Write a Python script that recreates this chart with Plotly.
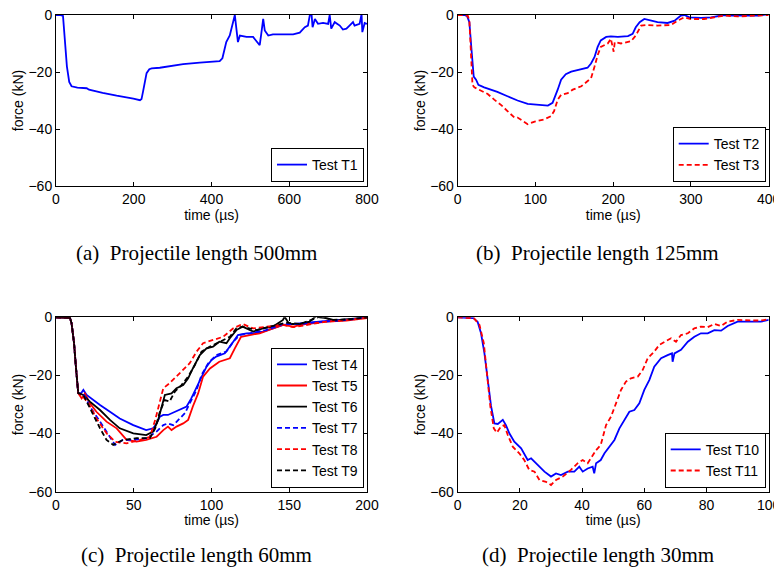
import plotly.graph_objects as go

# ---------------- data ----------------
# (a) Projectile length 500mm
t_T1 = [0, 10, 18, 22, 28, 34, 40, 55, 79, 85, 96, 120, 156, 180, 199, 216, 220, 224, 229, 233,
        240, 246, 267, 284, 327, 370, 421, 428, 438, 447, 456, 460, 464, 468, 473, 490, 507, 520,
        524, 528, 533, 537, 546, 558, 584, 610, 627, 640, 648, 653, 657, 660, 666, 674, 687, 700,
        704, 708, 717, 730, 738, 747, 755, 764, 768, 781, 786, 788, 794, 800]
F_T1 = [0, 0, -0.3, -8, -18, -23.5, -25, -25.5, -25.7, -26.2, -26.6, -27.3, -28.3, -28.8, -29.3,
        -29.9, -29.5, -26.8, -23, -20.4, -19, -18.7, -18.5, -18.1, -17.2, -16.7, -16.2, -15.2, -9.5,
        -7.2, -2.5, 0, -4.8, -9.5, -7.2, -7.7, -7.7, -10, -10.6, -6.6, -1.4, -5.4, -7.2, -6.8, -6.8,
        -6.8, -6.2, -4.3, -3.7, 0, 0.9, -4.3, -1.4, -3.1, -2.8, -3.1, 0, -4.8, -2.5, -3.7, -5.1,
        -4.8, -3.7, -2.5, -3.7, -3.1, 0.3, -6, -2.8, -3.1]

# (b) Projectile length 125mm
t_T2 = [0, 8, 12, 15, 18, 20.6, 23.6, 26.6, 34, 43, 51, 64, 77, 90, 103, 116, 122, 126.5, 128.6,
        133, 139, 146, 156, 167, 171.5, 176, 180, 184, 191, 197, 206, 219, 225, 229, 234, 240, 249,
        257, 270, 279, 287, 291.5, 298, 313, 326, 343, 352, 369, 386, 400]
F_T2 = [0, 0, -0.3, -2.5, -13, -21.6, -22.7, -24.5, -25.4, -26.2, -27, -28.5, -30, -31.2, -31.6,
        -31.8, -30.8, -28, -26.2, -22.7, -20.8, -19.9, -19.3, -18.5, -17, -14.7, -11.2, -8.9, -7.7,
        -7.5, -7.7, -7.4, -6.6, -4.3, -2.5, -1.4, -2, -2.5, -2.8, -2, -0.2, 0, -0.8, -1, -0.8, 0,
        -0.2, -0.2, -0.2, 0.3]
t_T3 = [0, 8, 13, 15, 17, 19, 21.4, 28, 38.6, 47, 56, 64, 73, 77, 84, 90, 99, 111.5, 120, 124,
        128.6, 133, 141.5, 148, 159, 167, 171.5, 176, 180, 184, 193, 197, 200.6, 202, 210, 223, 229,
        236, 244, 257, 274, 283, 291.5, 300, 317, 330, 343, 360, 377, 400]
F_T3 = [0, 0, -0.3, -2, -13, -24.5, -25.4, -26.2, -27.7, -29.7, -31.6, -33.7, -36, -36, -37.4,
        -38.3, -37.4, -36.6, -35.5, -33.7, -29.7, -28, -27.4, -26.2, -25, -23.3, -22.2, -18.1,
        -14.1, -11.2, -10, -8.3, -12.9, -9.5, -10, -9.2, -7.2, -3.7, -3.5, -3.7, -3.5, -2, -0.8,
        -1.4, -1.4, -0.8, -0.2, -0.5, -0.2, 0]

# (c) Projectile length 60mm
t_T4 = [0, 9, 10, 11.6, 12.8, 14.3, 15.4, 17.6, 19.7, 24, 28.3, 34.7, 41, 49.7, 58, 62.5, 64.7,
        66.8, 69, 72, 75.4, 80.7, 84, 87, 90, 93.6, 96.8, 100, 103, 108.6, 110.7, 114, 117, 122.5,
        126.8, 133, 139.6, 146, 156.7, 167.5, 178, 189, 200]
F_T4 = [0, -0.2, -2.0, -8.9, -17.0, -26.1, -26.7, -25.0, -26.7, -28.5, -30.2, -32.5, -34.8,
        -37.1, -38.8, -38.2, -36.5, -34.2, -33.6, -33.6, -32.8, -31.3, -30.7, -27.9, -24.4, -20.4,
        -17.0, -14.7, -13.5, -12.4, -10.7, -8.4, -6.1, -5.5, -5.5, -4.9, -3.8, -2.6, -2.1, -1.5,
        -1.1, -0.7, 0]
t_T5 = [0, 9, 10, 11.6, 12.8, 14.3, 16.5, 18.6, 21.8, 26, 32.5, 39, 45.4, 51.8, 58, 64.7, 69, 72,
        74.3, 77.5, 81.8, 85, 88, 91.4, 94.6, 99, 105, 111.8, 115, 119, 124.6, 131, 139.6, 146,
        152.5, 161, 174, 186.7, 200]
F_T5 = [0, -0.2, -2.0, -8.9, -17.0, -26.1, -27.9, -26.2, -29.6, -32.5, -35.9, -38.2, -42.2,
        -42.8, -42.2, -41.1, -38.8, -37.6, -38.8, -37.6, -36.5, -35.3, -30.7, -26.2, -20.4, -17.6,
        -15.3, -14.1, -10.7, -6.7, -6.1, -5.5, -3.8, -2.6, -3.2, -2.3, -1.5, -1.1, -0.3]
t_T6 = [0, 9, 10, 11.6, 12.8, 14.3, 17.6, 21.8, 28.3, 34.7, 41, 49.7, 58, 62.5, 65.7, 68, 70,
        74.3, 77.5, 81.8, 85, 88, 92.5, 96.8, 101, 105, 109.6, 111.8, 116, 120, 126.8, 133, 139.6,
        146, 147, 150, 156.7, 163, 167.5, 169.6, 174, 180, 189, 200]
F_T6 = [0, -0.2, -2.0, -8.9, -17.0, -26.1, -26.7, -29.0, -31.9, -35.3, -38.2, -39.9, -40.5,
        -39.3, -35.3, -30.7, -26.7, -26.2, -24.4, -23.3, -21.0, -17.6, -13.0, -10.7, -10.1, -8.4,
        -8.9, -7.2, -4.4, -3.2, -4.9, -3.8, -3.2, -0.9, 0.2, -2.3, -2.3, -1.5, 0.5, 0, -0.3, -1.1,
        -0.7, 0]
t_T7 = [0, 9, 10, 11.6, 12.8, 14.3, 17.6, 21.8, 28.3, 34.7, 38, 43, 49.7, 58, 64.7, 69, 72, 75.4,
        78.6, 82.9, 86, 90.4, 93.6, 97.9, 103, 109.6, 114, 118, 124.6, 135, 146, 157, 170, 187, 200]
F_T7 = [0, -0.2, -2.0, -8.9, -17.0, -26.1, -26.2, -30.7, -35.9, -41.1, -43.9, -42.2, -42.2,
        -41.6, -39.3, -37.1, -36.5, -37.1, -35.3, -33.0, -29.6, -25.0, -19.8, -15.8, -13.0, -11.8,
        -8.4, -6.1, -5.5, -4.4, -2.3, -2.3, -1.6, -0.9, 0]
t_T8 = [0, 9, 10, 11.6, 12.8, 14.3, 16.5, 20.8, 26, 32.5, 38, 45.4, 54, 60.4, 63.8, 66.8, 69, 73,
        79.7, 86, 90.4, 94.6, 101, 107.5, 114, 120, 126.8, 135, 146, 152.5, 161, 174, 189, 200]
F_T8 = [0, -0.2, -2.0, -8.9, -17.0, -26.1, -26.7, -29.6, -34.8, -39.9, -42.8, -43.4, -42.2,
        -41.1, -35.3, -28.5, -24.4, -22.7, -19.3, -15.8, -11.8, -8.9, -7.8, -6.7, -3.8, -2.3, -3.8,
        -3.2, -2.6, -3.4, -2.6, -1.5, -0.9, 0]
t_T9 = [0, 9, 10, 11.6, 12.8, 14.3, 17.6, 21.8, 28.3, 32.5, 36.8, 43, 51.8, 60.4, 63.8, 66.8, 70,
        73, 76.4, 80.7, 85, 89.3, 93.6, 99, 105, 111.8, 116, 120, 129, 139.6, 148, 157, 169.6, 178,
        189, 200]
F_T9 = [0, -0.2, -2.0, -8.9, -17.0, -26.1, -26.7, -31.3, -38.2, -42.2, -43.9, -42.2, -41.6,
        -41.6, -38.2, -32.5, -28.5, -29.0, -25.6, -23.3, -20.4, -16.4, -11.8, -10.1, -8.4, -6.7,
        -3.8, -3.2, -4.4, -3.0, -1.8, -2.3, 0.2, -0.9, -0.7, 0]

# (d) Projectile length 30mm
t_T10 = [0, 5, 6.4, 7.5, 8.6, 9.6, 10.7, 11.8, 12.9, 14.5, 15.5, 16.6, 18.2, 20.4, 22.5, 23.6,
         25.7, 27.9, 30, 31.6, 33.2, 35.4, 37.5, 39.1, 40.2, 41.8, 43.4, 43.9, 44.5, 46, 47.2, 48.8,
         50.4, 52, 53.6, 55.2, 56.8, 58.4, 60, 61.6, 63.2, 65.4, 67.5, 68.9, 69.1, 69.7, 71.8, 74,
         76.1, 78.2, 80.4, 82.5, 84.7, 86.8, 90, 94.3, 97.5, 100]
F_T10 = [0, -0.3, -1.5, -5.5, -12.4, -21.6, -30.4, -36.5, -36.7, -35.3, -37.1, -39.9, -42.8,
         -45.1, -49.1, -48.5, -50.8, -53.1, -54.8, -53.7, -54.3, -53.1, -53.1, -51.4, -53.1, -52.0,
         -51.4, -53.7, -50.2, -49.1, -46.8, -44.5, -42.2, -38.2, -35.3, -32.5, -31.9, -29.6, -25.0,
         -21.6, -17.0, -14.1, -13.0, -12.4, -15.3, -12.4, -11.2, -8.4, -6.7, -5.5, -5.5, -4.4,
         -4.6, -3.0, -1.5, -1.5, -1.5, -0.9]
t_T11 = [0, 5.2, 7, 8.4, 9.4, 10.5, 11.6, 12.6, 13.9, 15, 16.1, 17.7, 19.8, 21.4, 23, 24.7, 26.3,
         28.4, 30, 31.6, 33.8, 36.4, 38.6, 40.2, 41.8, 42.9, 44.5, 46, 47.7, 49.3, 50.9, 52.5, 54.1,
         55.7, 57.9, 59.5, 61.1, 63.2, 64.8, 66.5, 68.6, 70.2, 71.8, 74, 76.1, 78.2, 80.4, 82.5,
         84.7, 86.8, 90, 94.3, 97.5, 100]
F_T11 = [0, -0.3, -2.6, -8.9, -19.3, -30.7, -38.2, -39.7, -37.6, -37.1, -40.5, -44.5, -46.8,
         -49.1, -52.5, -53.1, -56.0, -56.6, -57.7, -56.0, -54.8, -52.5, -50.2, -49.1, -50.2, -48.5,
         -45.7, -43.9, -37.1, -34.2, -29.6, -25.0, -22.1, -21.0, -20.4, -18.1, -14.1, -11.8, -9.5,
         -8.4, -7.2, -8.4, -6.1, -5.5, -3.8, -3.2, -3.4, -2.3, -3.0, -1.5, -0.9, -1.1, -1.1, -0.7]

x_ticks_a = [0, 200, 400, 600, 800]
x_ticks_b = [0, 100, 200, 300, 400]
x_ticks_c = [0, 50, 100, 150, 200]
x_ticks_d = [0, 20, 40, 60, 80, 100]
y_ticks = [-60, -40, -20, 0]
captions = ["(a)\u2002Projectile length 500mm", "(b)\u2002Projectile length 125mm",
            "(c)\u2002Projectile length 60mm", "(d)\u2002Projectile length 30mm"]

# ---------------- figure ----------------
# the page places the figure 8 px from the window's top-left corner;
# keep the page from scrolling (8 + H + 8 <= 575)
OFF = 8
W, H = 782 - OFF, 575 - 2 * OFF
BLUE, RED, BLACK = "#0000ff", "#ff0000", "#000000"
DASH = "5px,3px"

fig = go.Figure()

def px2x(p):
    return (p - OFF) / W

def px2y(p):
    return 1 - (p - OFF) / H

panels = [
    ("x", "y", [0, 800], x_ticks_a, 56, 367, 15, 186, "legend"),
    ("x2", "y2", [0, 400], x_ticks_b, 457.7, 768.7, 15, 186, "legend2"),
    ("x3", "y3", [0, 200], x_ticks_c, 56, 367, 317.3, 491.7, "legend3"),
    ("x4", "y4", [0, 100], x_ticks_d, 457.7, 768.7, 317.3, 491.7, "legend4"),
]

series = [
    [("Test T1", t_T1, F_T1, BLUE, "solid")],
    [("Test T2", t_T2, F_T2, BLUE, "solid"), ("Test T3", t_T3, F_T3, RED, DASH)],
    [("Test T4", t_T4, F_T4, BLUE, "solid"), ("Test T5", t_T5, F_T5, RED, "solid"),
     ("Test T6", t_T6, F_T6, BLACK, "solid"), ("Test T7", t_T7, F_T7, BLUE, DASH),
     ("Test T8", t_T8, F_T8, RED, DASH), ("Test T9", t_T9, F_T9, BLACK, DASH)],
    [("Test T10", t_T10, F_T10, BLUE, "solid"), ("Test T11", t_T11, F_T11, RED, DASH)],
]

tickfont = dict(family="Liberation Sans, Arial, sans-serif", size=14, color="black")
layout = dict(
    width=W, height=H, margin=dict(l=0, r=0, t=0, b=0, autoexpand=False),
    paper_bgcolor="white", plot_bgcolor="white", showlegend=True,
    font=tickfont,
)

for i, (xa, ya, xr, xt, L, R, T, B, lg) in enumerate(panels):
    for name, tx, fy, col, dash in series[i]:
        fig.add_trace(go.Scatter(
            x=tx, y=fy, mode="lines", name=name, xaxis=xa, yaxis=ya, legend=lg,
            line=dict(color=col, width=1.8, dash=dash),
        ))
    xkey = "xaxis" if xa == "x" else "xaxis" + xa[1:]
    ykey = "yaxis" if ya == "y" else "yaxis" + ya[1:]
    common = dict(showgrid=False, zeroline=False, showline=True, linecolor="black", linewidth=1,
                  mirror="ticks", ticks="inside", ticklen=4, tickcolor="black", tickwidth=1,
                  tickfont=tickfont, automargin=False, ticklabeloverflow="allow")
    layout[xkey] = dict(domain=[px2x(L), px2x(R)], range=xr, tickvals=xt, anchor=ya,
                        title=dict(text="time (\u00b5s)", font=tickfont, standoff=0), **common)
    layout[ykey] = dict(domain=[px2y(B), px2y(T)], range=[-60, 0], tickvals=y_ticks, anchor=xa,
                        title=dict(text="force (kN)", font=tickfont, standoff=1), **common)
    layout[lg] = dict(
        x=px2x(R - 3), y=px2y(B - 4), xanchor="right", yanchor="bottom", xref="paper", yref="paper",
        bgcolor="white", bordercolor="black", borderwidth=1,
        font=dict(family="Liberation Sans, Arial, sans-serif", size=14, color="black"),
        itemwidth=30, tracegroupgap=0,
    )

fig.update_layout(**layout)

cap_pos = [(196, 253), (597.5, 253), (196, 555), (597.5, 555)]
for text, (cx, cy) in zip(captions, cap_pos):
    fig.add_annotation(
        text=text, x=px2x(cx), y=px2y(cy), xref="paper", yref="paper", showarrow=False,
        xanchor="center", yanchor="middle",
        font=dict(family="Liberation Serif, Times New Roman, serif", size=21, color="black"),
    )

fig.write_html("out.html")
